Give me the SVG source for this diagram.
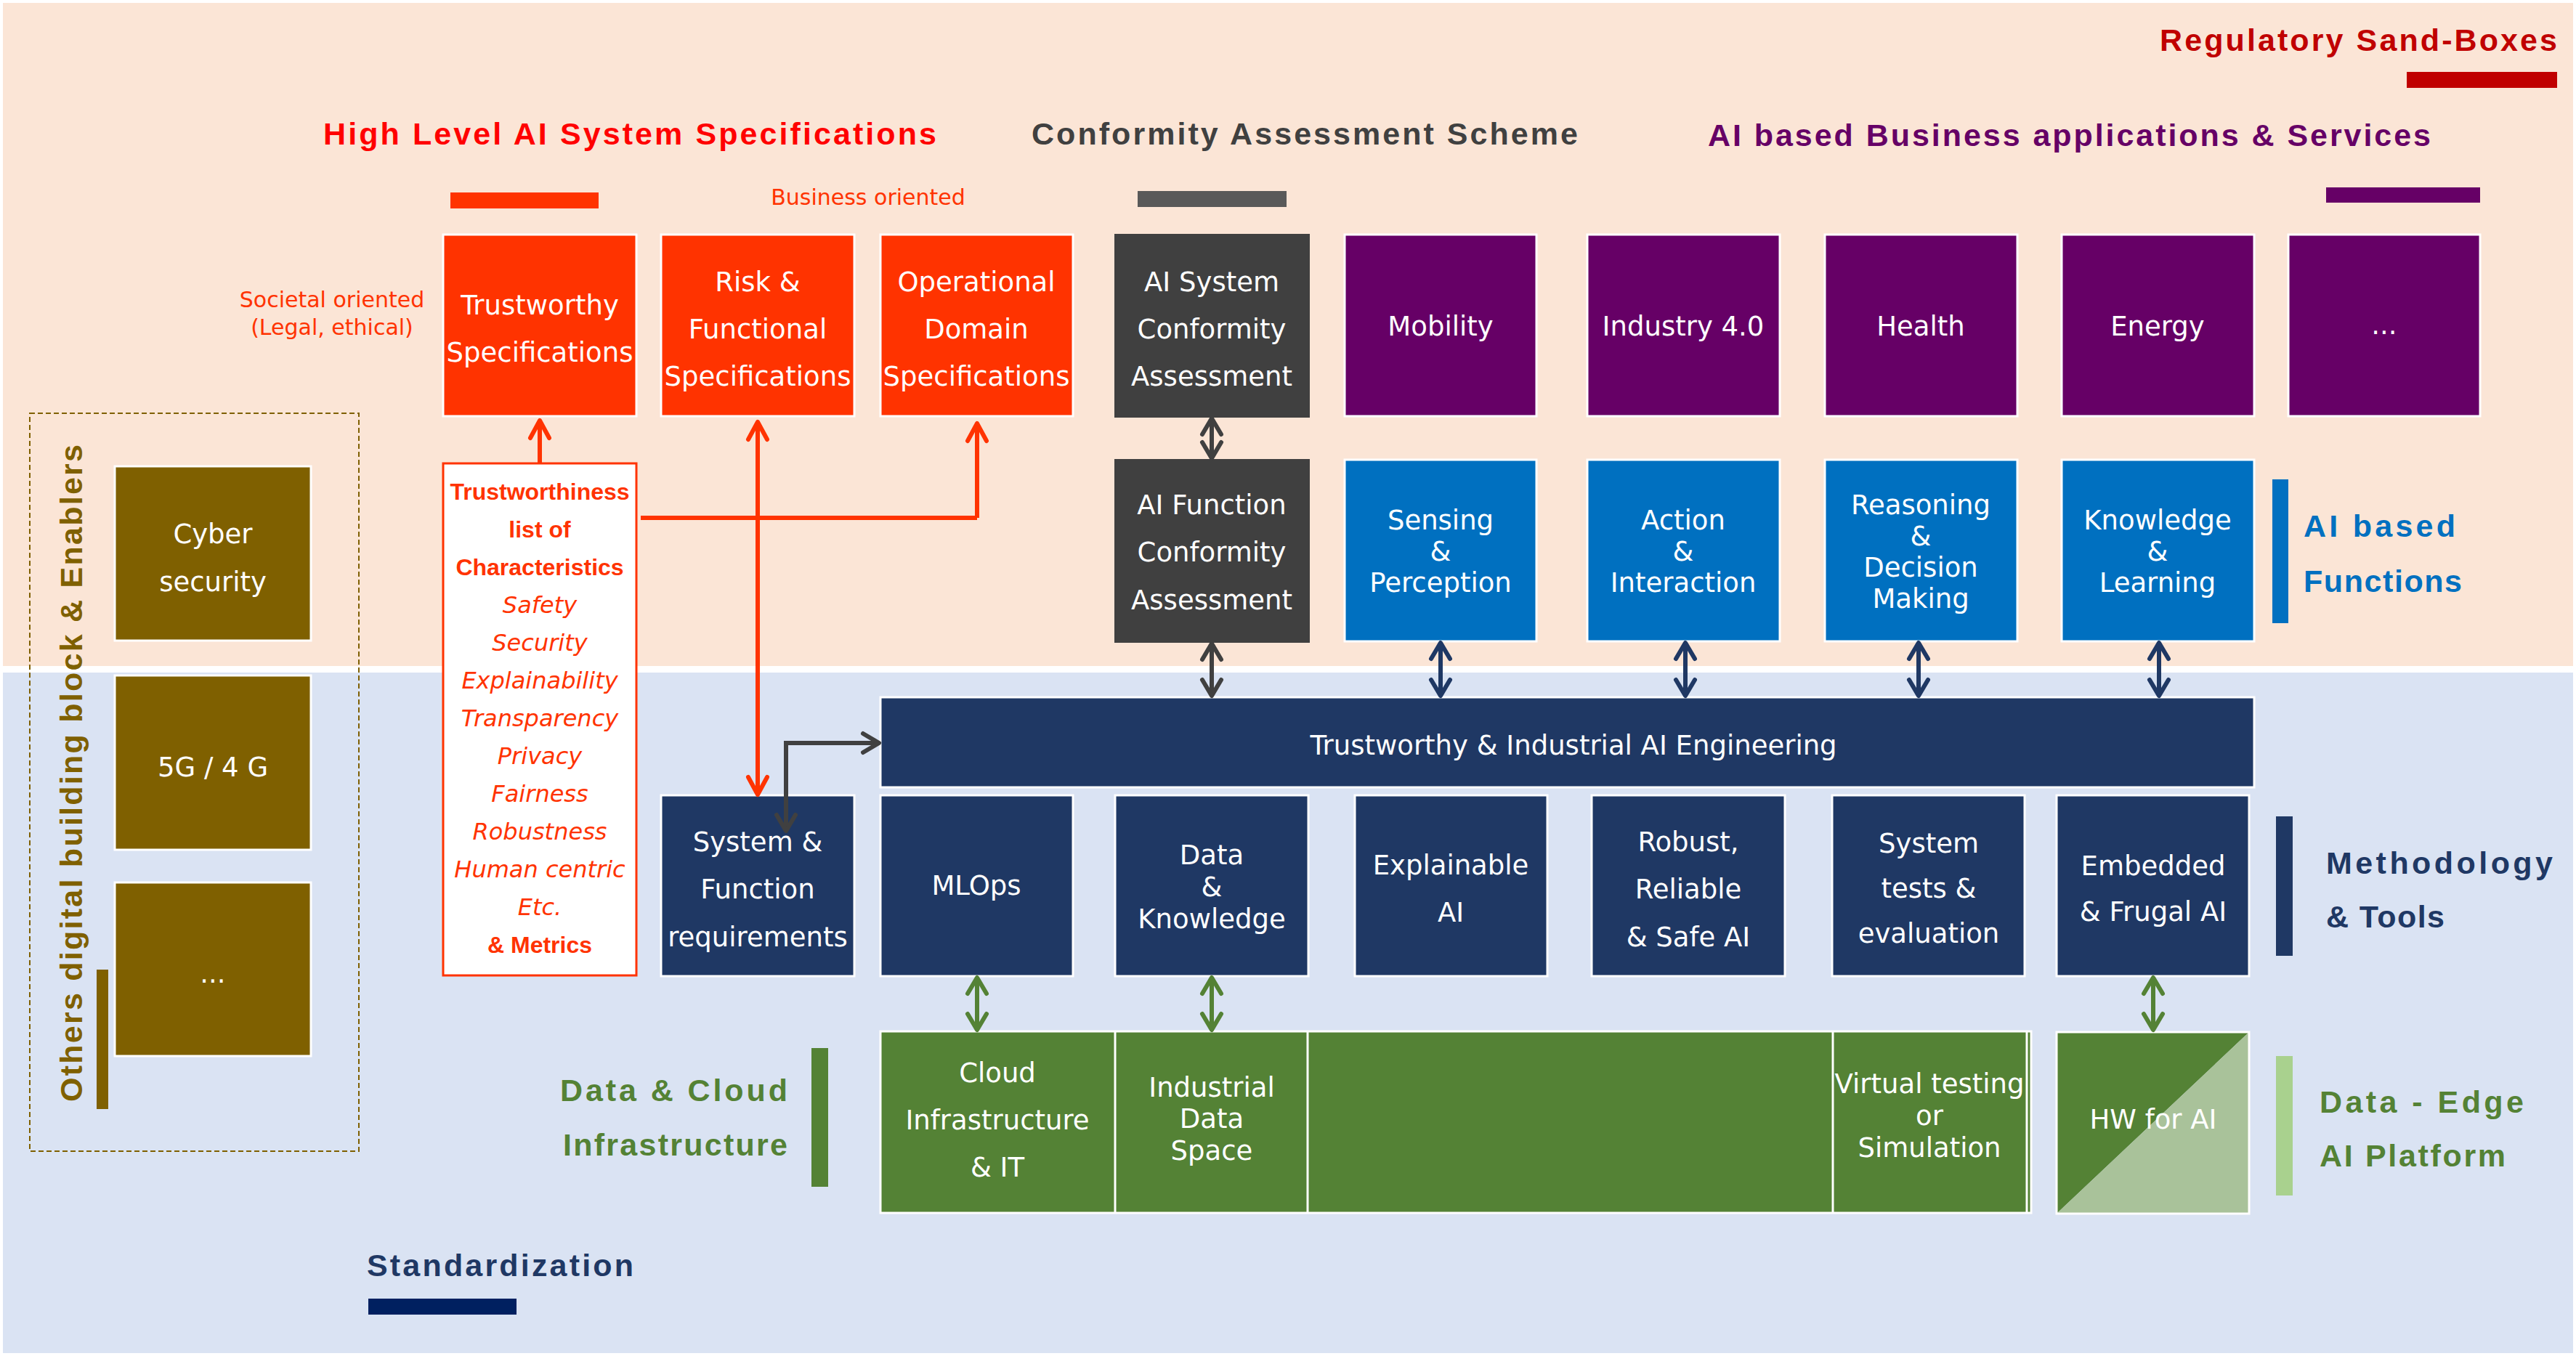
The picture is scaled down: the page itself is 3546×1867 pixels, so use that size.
<svg xmlns="http://www.w3.org/2000/svg" width="3546" height="1867" viewBox="0 0 3546 1867">
<defs>
<style>
.t{font-family:'DejaVu Sans',sans-serif;font-size:37px;fill:#fff;text-anchor:middle;dominant-baseline:central}
.h{font-family:'Liberation Sans',Arial,sans-serif;font-weight:bold;font-size:43px;dominant-baseline:central}
.wb{stroke:#fff;stroke-width:3}
.red{fill:#FF3300}
.gray{fill:#404040}
.pur{fill:#660066}
.blu{fill:#0070C0}
.navy{fill:#1F3864}
.olive{fill:#7F6000}
.grn{fill:#548235}
.li{font-family:'DejaVu Sans',sans-serif;font-size:32px;font-style:italic;fill:#FF3300;text-anchor:middle;dominant-baseline:central}
.lb{font-family:'Liberation Sans',Arial,sans-serif;font-size:32px;font-weight:bold;fill:#FF3300;text-anchor:middle;dominant-baseline:central}
.sm{font-family:'DejaVu Sans',sans-serif;font-size:30px;fill:#FF3300;text-anchor:middle;dominant-baseline:central}
.c{fill:none;stroke-width:6}
.cr{stroke:#FF3300;marker-end:url(#mR)}
.cg{stroke:#404040}
.cn{stroke:#1F3864}
.cgr{stroke:#548235}
</style>
<marker id="mR" markerUnits="userSpaceOnUse" orient="auto-start-reverse" refX="0" refY="0" markerWidth="40" markerHeight="40" overflow="visible"><path d="M-24,-13 L0,0 L-24,13" fill="none" stroke="#FF3300" stroke-width="6" stroke-linecap="round" stroke-linejoin="round"/></marker>
<marker id="mG" markerUnits="userSpaceOnUse" orient="auto-start-reverse" refX="0" refY="0" markerWidth="40" markerHeight="40" overflow="visible"><path d="M-22,-13 L0,0 L-22,13" fill="none" stroke="#404040" stroke-width="6" stroke-linecap="round" stroke-linejoin="round"/></marker>
<marker id="mN" markerUnits="userSpaceOnUse" orient="auto-start-reverse" refX="0" refY="0" markerWidth="40" markerHeight="40" overflow="visible"><path d="M-22,-13 L0,0 L-22,13" fill="none" stroke="#1F3864" stroke-width="6" stroke-linecap="round" stroke-linejoin="round"/></marker>
<marker id="mGr" markerUnits="userSpaceOnUse" orient="auto-start-reverse" refX="0" refY="0" markerWidth="40" markerHeight="40" overflow="visible"><path d="M-22,-13 L0,0 L-22,13" fill="none" stroke="#548235" stroke-width="6" stroke-linecap="round" stroke-linejoin="round"/></marker>
</defs>

<rect x="0" y="0" width="3546" height="1867" fill="#fff"/>
<rect id="zone-top" x="4" y="4" width="3538" height="913" fill="#FBE5D6"/>
<rect id="zone-bottom" x="4" y="926" width="3538" height="937" fill="#DAE3F3"/>

<!-- titles & bars -->
<g id="title-regulatory">
<text class="h" x="2973" y="55" fill="#C00000" textLength="547" lengthAdjust="spacing">Regulatory Sand-Boxes</text>
<rect x="3313" y="99" width="207" height="22" fill="#C00000"/>
</g>
<g id="title-highlevel">
<text class="h" x="445" y="184" fill="#FF0000" textLength="844" lengthAdjust="spacing">High Level AI System Specifications</text>
<rect x="620" y="265" width="204" height="22" fill="#FF3300"/>
</g>
<g id="title-conformity">
<text class="h" x="1420" y="184" fill="#404040" textLength="752" lengthAdjust="spacing">Conformity Assessment Scheme</text>
<rect x="1566" y="263" width="205" height="22" fill="#595959"/>
</g>
<g id="title-business">
<text class="h" x="2351" y="186" fill="#660066" textLength="995" lengthAdjust="spacing">AI based Business applications &amp; Services</text>
<rect x="3202" y="258" width="212" height="21" fill="#660066"/>
</g>
<g id="label-ai-functions">
<rect x="3128" y="660" width="22" height="198" fill="#0070C0"/>
<text class="h" x="3171" y="724" fill="#0070C0" textLength="209" lengthAdjust="spacing">AI based</text>
<text class="h" x="3171" y="800" fill="#0070C0" textLength="218" lengthAdjust="spacing">Functions</text>
</g>
<g id="label-methodology">
<rect x="3133" y="1124" width="23" height="192" fill="#1F3864"/>
<text class="h" x="3202" y="1188" fill="#1F3864" textLength="312" lengthAdjust="spacing">Methodology</text>
<text class="h" x="3202" y="1262" fill="#1F3864" textLength="163" lengthAdjust="spacing">&amp; Tools</text>
</g>
<g id="label-data-cloud">
<rect x="1117" y="1443" width="23" height="191" fill="#548235"/>
<text class="h" x="771" y="1501" fill="#548235" textLength="313" lengthAdjust="spacing">Data &amp; Cloud</text>
<text class="h" x="775" y="1576" fill="#548235" textLength="309" lengthAdjust="spacing">Infrastructure</text>
</g>
<g id="label-data-edge">
<rect x="3133" y="1454" width="23" height="192" fill="#A9D18E"/>
<text class="h" x="3193" y="1517" fill="#548235" textLength="281" lengthAdjust="spacing">Data - Edge</text>
<text class="h" x="3193" y="1591" fill="#548235" textLength="256" lengthAdjust="spacing">AI Platform</text>
</g>
<g id="label-standardization">
<text class="h" x="505" y="1742" fill="#1F3864" textLength="367" lengthAdjust="spacing">Standardization</text>
<rect x="507" y="1788" width="204" height="22" fill="#002060"/>
</g>
<g id="label-societal">
<text class="sm" x="457" y="412">Societal oriented</text>
<text class="sm" x="457" y="450">(Legal, ethical)</text>
</g>
<g id="label-business-oriented">
<text class="sm" x="1195" y="271">Business oriented</text>
</g>

<!-- left enablers group -->
<g id="enablers">
<rect x="41" y="569" width="453" height="1016" fill="none" stroke="#7F6000" stroke-width="2" stroke-dasharray="7,4"/>
<text class="h" transform="translate(98,1517) rotate(-90)" x="0" y="0" fill="#7F6000" font-size="46" textLength="905" lengthAdjust="spacing">Others digital building block &amp;  Enablers</text>
<rect x="133" y="1335" width="16" height="192" fill="#7F6000"/>
</g>
<g id="n-cyber"><rect class="olive wb" x="158" y="642" width="270" height="240"/><text class="t" x="293" y="735">Cyber</text><text class="t" x="293" y="801">security</text></g>
<g id="n-5g"><rect class="olive wb" x="158" y="930" width="270" height="240"/><text class="t" x="293" y="1056">5G / 4 G</text></g>
<g id="n-other"><rect class="olive wb" x="158" y="1215" width="270" height="239"/><text class="t" x="293" y="1340">...</text></g>

<!-- top row -->
<g id="n-tw-spec"><rect class="red wb" x="610" y="323" width="266" height="250"/><text class="t" x="743" y="420">Trustworthy</text><text class="t" x="743" y="485">Specifications</text></g>
<g id="n-risk"><rect class="red wb" x="910" y="323" width="266" height="250"/><text class="t" x="1043" y="388">Risk &amp;</text><text class="t" x="1043" y="453">Functional</text><text class="t" x="1043" y="518">Specifications</text></g>
<g id="n-odd"><rect class="red wb" x="1212" y="323" width="265" height="250"/><text class="t" x="1344" y="388">Operational</text><text class="t" x="1344" y="453">Domain</text><text class="t" x="1344" y="518">Specifications</text></g>
<g id="n-sys-ca"><rect class="gray" x="1534" y="322" width="269" height="253"/><text class="t" x="1668" y="388">AI System</text><text class="t" x="1668" y="453">Conformity</text><text class="t" x="1668" y="518">Assessment</text></g>
<g id="n-mobility"><rect class="pur wb" x="1851" y="323" width="264" height="250"/><text class="t" x="1983" y="449">Mobility</text></g>
<g id="n-industry"><rect class="pur wb" x="2185" y="323" width="265" height="250"/><text class="t" x="2317" y="449">Industry 4.0</text></g>
<g id="n-health"><rect class="pur wb" x="2512" y="323" width="265" height="250"/><text class="t" x="2644" y="449">Health</text></g>
<g id="n-energy"><rect class="pur wb" x="2838" y="323" width="265" height="250"/><text class="t" x="2970" y="449">Energy</text></g>
<g id="n-more-apps"><rect class="pur wb" x="3150" y="323" width="264" height="250"/><text class="t" x="3282" y="447">...</text></g>

<!-- second row -->
<g id="n-tw-list">
<rect x="610" y="638" width="266" height="705" fill="#fff" stroke="#FF3300" stroke-width="3"/>
<text class="lb" x="743" y="677">Trustworthiness</text>
<text class="lb" x="743" y="729">list of</text>
<text class="lb" x="743" y="781">Characteristics</text>
<text class="li" x="743" y="833">Safety</text>
<text class="li" x="743" y="885">Security</text>
<text class="li" x="743" y="937">Explainability</text>
<text class="li" x="743" y="989">Transparency</text>
<text class="li" x="743" y="1041">Privacy</text>
<text class="li" x="743" y="1093">Fairness</text>
<text class="li" x="743" y="1145">Robustness</text>
<text class="li" x="743" y="1197">Human centric</text>
<text class="li" x="743" y="1249">Etc.</text>
<text class="lb" x="743" y="1301">&amp; Metrics</text>
</g>
<g id="n-func-ca"><rect class="gray" x="1534" y="632" width="269" height="253"/><text class="t" x="1668" y="695">AI Function</text><text class="t" x="1668" y="760">Conformity</text><text class="t" x="1668" y="826">Assessment</text></g>
<g id="n-sensing"><rect class="blu wb" x="1851" y="633" width="264" height="250"/><text class="t" x="1983" y="716">Sensing</text><text class="t" x="1983" y="759">&amp;</text><text class="t" x="1983" y="802">Perception</text></g>
<g id="n-action"><rect class="blu wb" x="2185" y="633" width="265" height="250"/><text class="t" x="2317" y="716">Action</text><text class="t" x="2317" y="759">&amp;</text><text class="t" x="2317" y="802">Interaction</text></g>
<g id="n-reasoning"><rect class="blu wb" x="2512" y="633" width="265" height="250"/><text class="t" x="2644" y="695">Reasoning</text><text class="t" x="2644" y="738">&amp;</text><text class="t" x="2644" y="781">Decision</text><text class="t" x="2644" y="824">Making</text></g>
<g id="n-knowledge"><rect class="blu wb" x="2838" y="633" width="265" height="250"/><text class="t" x="2970" y="716">Knowledge</text><text class="t" x="2970" y="759">&amp;</text><text class="t" x="2970" y="802">Learning</text></g>

<!-- engineering bar -->
<g id="n-engineering"><rect class="navy wb" x="1212" y="960" width="1891" height="124"/><text class="t" x="2166" y="1026">Trustworthy &amp; Industrial AI Engineering</text></g>

<!-- methodology row -->
<g id="n-sysreq"><rect class="navy wb" x="910" y="1095" width="266" height="249"/><text class="t" x="1043" y="1159">System &amp;</text><text class="t" x="1043" y="1224">Function</text><text class="t" x="1043" y="1290">requirements</text></g>
<g id="n-mlops"><rect class="navy wb" x="1212" y="1095" width="265" height="249"/><text class="t" x="1344" y="1219">MLOps</text></g>
<g id="n-data-knowledge"><rect class="navy wb" x="1535" y="1095" width="266" height="249"/><text class="t" x="1668" y="1177">Data</text><text class="t" x="1668" y="1221">&amp;</text><text class="t" x="1668" y="1265">Knowledge</text></g>
<g id="n-xai"><rect class="navy wb" x="1865" y="1095" width="265" height="249"/><text class="t" x="1997" y="1191">Explainable</text><text class="t" x="1997" y="1256">AI</text></g>
<g id="n-robust"><rect class="navy wb" x="2191" y="1095" width="266" height="249"/><text class="t" x="2324" y="1159">Robust,</text><text class="t" x="2324" y="1224">Reliable</text><text class="t" x="2324" y="1290">&amp; Safe AI</text></g>
<g id="n-systests"><rect class="navy wb" x="2522" y="1095" width="265" height="249"/><text class="t" x="2655" y="1161">System</text><text class="t" x="2655" y="1223">tests &amp;</text><text class="t" x="2655" y="1285">evaluation</text></g>
<g id="n-embedded"><rect class="navy wb" x="2831" y="1095" width="265" height="249"/><text class="t" x="2964" y="1192">Embedded</text><text class="t" x="2964" y="1255">&amp; Frugal AI</text></g>

<!-- green row -->
<g id="n-infra-row">
<rect class="grn wb" x="1212" y="1420" width="1584" height="250"/>
<line x1="1535" y1="1420" x2="1535" y2="1670" stroke="#fff" stroke-width="3"/>
<line x1="1800" y1="1420" x2="1800" y2="1670" stroke="#fff" stroke-width="3"/>
<line x1="2523" y1="1420" x2="2523" y2="1670" stroke="#fff" stroke-width="3"/>
<line x1="2790" y1="1420" x2="2790" y2="1670" stroke="#fff" stroke-width="3"/>
</g>
<g id="n-cloud"><text class="t" x="1373" y="1477">Cloud</text><text class="t" x="1373" y="1542">Infrastructure</text><text class="t" x="1373" y="1607">&amp; IT</text></g>
<g id="n-ids"><text class="t" x="1668" y="1497">Industrial</text><text class="t" x="1668" y="1540">Data</text><text class="t" x="1668" y="1584">Space</text></g>
<g id="n-virtual"><text class="t" x="2656" y="1492">Virtual testing</text><text class="t" x="2656" y="1536">or</text><text class="t" x="2656" y="1580">Simulation</text></g>
<g id="n-hw">
<polygon points="2831,1421 3096,1421 2831,1671" fill="#548235"/>
<polygon points="3096,1421 3096,1671 2831,1671" fill="#A9C29A"/>
<rect x="2831" y="1421" width="265" height="250" fill="none" stroke="#fff" stroke-width="3"/>
<text class="t" x="2964" y="1541">HW for AI</text>
</g>

<!-- connectors -->
<g id="connectors">
<path class="c cr" d="M743,638 L743,579"/>
<path class="c cr" d="M1345,713 L1345,583"/>
<path class="c" stroke="#FF3300" d="M882,713 L1345,713"/>
<path class="c cr" d="M1043,1094 L1043,581" style="marker-start:url(#mR)"/>
<path class="c cg" d="M1668,576 L1668,631" style="marker-start:url(#mG);marker-end:url(#mG)"/>
<path class="c cg" d="M1668,886 L1668,958" style="marker-start:url(#mG);marker-end:url(#mG)"/>
<path class="c cg" d="M1082,1144 L1082,1023 L1210,1023" style="marker-start:url(#mG);marker-end:url(#mG)"/>
<path class="c cn" d="M1983,885 L1983,958" style="marker-start:url(#mN);marker-end:url(#mN)"/>
<path class="c cn" d="M2320,885 L2320,958" style="marker-start:url(#mN);marker-end:url(#mN)"/>
<path class="c cn" d="M2641,885 L2641,958" style="marker-start:url(#mN);marker-end:url(#mN)"/>
<path class="c cn" d="M2972,885 L2972,958" style="marker-start:url(#mN);marker-end:url(#mN)"/>
<path class="c cgr" d="M1345,1346 L1345,1418" style="marker-start:url(#mGr);marker-end:url(#mGr)"/>
<path class="c cgr" d="M1668,1346 L1668,1418" style="marker-start:url(#mGr);marker-end:url(#mGr)"/>
<path class="c cgr" d="M2964,1346 L2964,1418" style="marker-start:url(#mGr);marker-end:url(#mGr)"/>
</g>
</svg>
